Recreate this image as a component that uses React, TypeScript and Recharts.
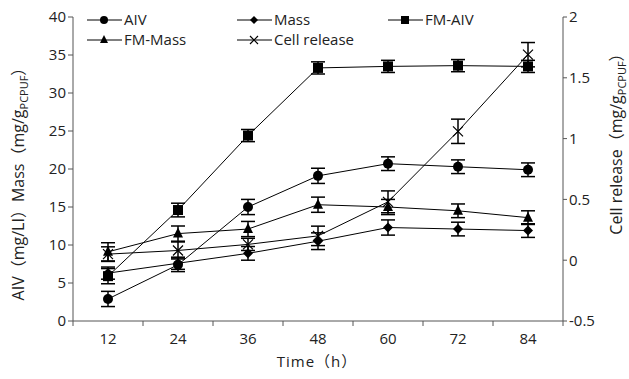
import React from "react";
import { LineChart, Line, XAxis, YAxis, ErrorBar } from "recharts";

const times = [12, 24, 36, 48, 60, 72, 84];
const aiv = [2.9, 7.4, 15.0, 19.1, 20.7, 20.3, 19.9];
const aivErr = [1.0, 0.9, 1.0, 1.0, 0.9, 0.9, 0.9];
const mass = [6.3, 7.6, 8.9, 10.5, 12.3, 12.1, 11.9];
const massErr = [0.8, 0.8, 0.9, 1.1, 1.0, 0.9, 0.9];
const fmAiv = [5.9, 14.6, 24.4, 33.3, 33.5, 33.6, 33.5];
const fmAivErr = [1.0, 0.9, 0.8, 0.8, 0.8, 0.8, 0.8];
const fmMass = [9.1, 11.5, 12.1, 15.3, 15.0, 14.5, 13.6];
const fmMassErr = [1.2, 1.0, 1.0, 1.0, 1.0, 0.9, 0.9];
const cellRelease = [0.05, 0.08, 0.13, 0.2, 0.48, 1.06, 1.69];
const cellErr = [0.06, 0.07, 0.05, 0.08, 0.09, 0.1, 0.1];

const leftTicks = [0, 5, 10, 15, 20, 25, 30, 35, 40];
const rightTicks = [-0.5, 0, 0.5, 1, 1.5, 2];
// labels sit at the times, tick marks at the boundaries between them
const xTicks = [6, 12, 18, 24, 30, 36, 42, 48, 54, 60, 66, 72, 78, 84, 90];

const data = times.map((t, i) => ({
  t,
  aiv: aiv[i],
  aivErr: aivErr[i],
  mass: mass[i],
  massErr: massErr[i],
  fmAiv: fmAiv[i],
  fmAivErr: fmAivErr[i],
  fmMass: fmMass[i],
  fmMassErr: fmMassErr[i],
  cell: cellRelease[i],
  cellErr: cellErr[i],
}));

const FONT = "'Open Sans', 'Noto Sans CJK SC', sans-serif";

type Shape = "circle" | "diamond" | "square" | "triangle" | "cross";

const Marker = ({ shape, x, y, s = 5 }: { shape: Shape; x: number; y: number; s?: number }) => {
  switch (shape) {
    case "circle":
      return <circle cx={x} cy={y} r={s} fill="#000" />;
    case "diamond":
      return <polygon points={`${x},${y - s} ${x + s},${y} ${x},${y + s} ${x - s},${y}`} fill="#000" />;
    case "square":
      return <rect x={x - s} y={y - s} width={s * 2} height={s * 2} fill="#000" />;
    case "triangle":
      return <polygon points={`${x},${y - s - 1} ${x + s},${y + s - 1} ${x - s},${y + s - 1}`} fill="#000" />;
    default:
      return (
        <path
          d={`M${x - s},${y - s}L${x + s},${y + s}M${x + s},${y - s}L${x - s},${y + s}`}
          stroke="#000"
          strokeWidth={1.2}
          fill="none"
        />
      );
  }
};

const dotFor = (shape: Shape) => (p: any) =>
  <Marker key={`${shape}-${p.index}`} shape={shape} x={p.cx} y={p.cy} />;

const XTick = (props: any) => {
  const { x, y, payload } = props;
  const v = payload.value;
  if ((v - 6) % 12 === 0) {
    return <line x1={x} x2={x} y1={y} y2={y + 5} stroke="#555" />;
  }
  return (
    <text x={x} y={y + 23} textAnchor="middle" fontSize={15} fontFamily={FONT} fill="#222">
      {v}
    </text>
  );
};

const legendItems: { name: string; shape: Shape; x: number; y: number }[] = [
  { name: "AIV", shape: "circle", x: 87, y: 20 },
  { name: "Mass", shape: "diamond", x: 237, y: 20 },
  { name: "FM-AIV", shape: "square", x: 388, y: 20 },
  { name: "FM-Mass", shape: "triangle", x: 87, y: 40 },
  { name: "Cell release", shape: "cross", x: 237, y: 40 },
];

export default function App() {
  const tickStyle = { fontSize: 15, fontFamily: FONT, fill: "#222" };
  return (
    <div style={{ position: "absolute", left: 0, top: 0, width: 629, height: 379, background: "#fff" }}>
      <LineChart
        width={629}
        height={379}
        data={data}
        margin={{ top: 17, right: 26, left: 33, bottom: 28 }}
      >
        <XAxis
          dataKey="t"
          type="number"
          domain={[6, 90]}
          ticks={xTicks}
          interval={0}
          tickLine={false}
          tickSize={0}
          tickMargin={0}
          tick={<XTick />}
          height={30}
          stroke="#555"
        />
        <YAxis
          yAxisId="left"
          domain={[0, 40]}
          ticks={leftTicks}
          interval={0}
          tickSize={5}
          width={40}
          tick={tickStyle}
          stroke="#555"
        />
        <YAxis
          yAxisId="right"
          orientation="right"
          domain={[-0.5, 2]}
          ticks={rightTicks}
          interval={0}
          tickSize={4}
          width={40}
          tick={tickStyle}
          stroke="#555"
        />
        <Line yAxisId="left" dataKey="aiv" stroke="#000" strokeWidth={1} dot={dotFor("circle")} isAnimationActive={false}>
          <ErrorBar dataKey="aivErr" width={7} stroke="#000" strokeWidth={1.5} />
        </Line>
        <Line yAxisId="left" dataKey="mass" stroke="#000" strokeWidth={1} dot={dotFor("diamond")} isAnimationActive={false}>
          <ErrorBar dataKey="massErr" width={7} stroke="#000" strokeWidth={1.5} />
        </Line>
        <Line yAxisId="left" dataKey="fmAiv" stroke="#000" strokeWidth={1} dot={dotFor("square")} isAnimationActive={false}>
          <ErrorBar dataKey="fmAivErr" width={7} stroke="#000" strokeWidth={1.5} />
        </Line>
        <Line yAxisId="left" dataKey="fmMass" stroke="#000" strokeWidth={1} dot={dotFor("triangle")} isAnimationActive={false}>
          <ErrorBar dataKey="fmMassErr" width={7} stroke="#000" strokeWidth={1.5} />
        </Line>
        <Line yAxisId="right" dataKey="cell" stroke="#000" strokeWidth={1} dot={dotFor("cross")} isAnimationActive={false}>
          <ErrorBar dataKey="cellErr" width={7} stroke="#000" strokeWidth={1.5} />
        </Line>
      </LineChart>
      <svg
        width={629}
        height={379}
        style={{ position: "absolute", left: 0, top: 0, pointerEvents: "none" }}
        fontFamily={FONT}
      >
        {legendItems.map((it) => (
          <g key={it.name}>
            <line x1={it.x} x2={it.x + 35} y1={it.y} y2={it.y} stroke="#000" />
            <Marker shape={it.shape} x={it.x + 17} y={it.y} s={4} />
            <text x={it.x + 37} y={it.y + 5} fontSize={15} fill="#222">
              {it.name}
            </text>
          </g>
        ))}
        <text x={317} y={367} textAnchor="middle" fontSize={15} letterSpacing={1} fill="#222">
          Time（h）
        </text>
        <text transform="translate(24,180) rotate(-90)" textAnchor="middle" fontSize={16} fill="#222">
          AIV（mg/LI）Mass（mg/g
          <tspan fontSize={11} dy={4}>PCPUF</tspan>
          <tspan dy={-4}>）</tspan>
        </text>
        <text transform="translate(622,140) rotate(-90)" textAnchor="middle" fontSize={16} fill="#222">
          Cell release（mg/g
          <tspan fontSize={11} dy={4}>PCPUF</tspan>
          <tspan dy={-4}>）</tspan>
        </text>
      </svg>
    </div>
  );
}
